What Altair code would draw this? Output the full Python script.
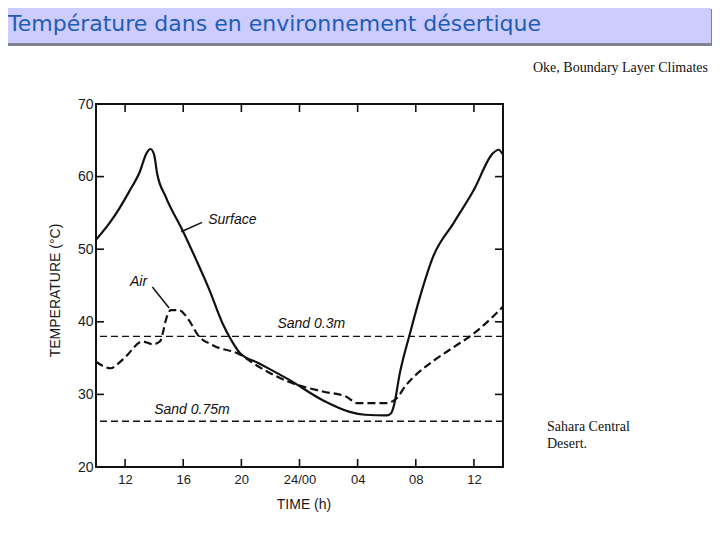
import altair as alt
import pandas as pd

# ---- data ----
surface_hours = [10, 11, 11.6, 12.3, 13.0, 13.5, 13.75, 14.0, 14.2, 14.8, 15.95, 16.9, 17.8, 18.7,
                 19.3, 19.9, 21.2, 23.3, 25.6, 27.45, 28.5, 30.0, 30.3, 30.5, 30.9, 31.6, 32.3,
                 33.2, 34.6, 36.0, 37.3, 37.7, 38.0]
surface_temps = [51.3, 53.8, 55.6, 58.0, 60.6, 63.3, 63.8, 63.0, 60.5, 57.2, 52.6, 48.5, 44.4, 39.8,
                 37.5, 35.7, 34.3, 32.0, 29.2, 27.6, 27.2, 27.1, 27.4, 28.5, 32.9, 38.4, 43.5,
                 49.0, 53.6, 58.2, 63.2, 63.7, 63.0]
air_hours = [10, 10.5, 11.0, 11.5, 12.05, 13.2, 13.9, 14.4, 14.6, 14.8, 15.15, 15.7, 16.4, 17.0,
             18.0, 19.9, 21.2, 23.3, 25.6, 27.2, 28.0, 30.0, 30.7, 31.3, 31.8, 33.2, 34.6, 36.0,
             37.3, 38.0]
air_temps = [34.5, 33.9, 33.6, 34.2, 35.2, 37.3, 36.9, 37.3, 38.5, 40.2, 41.6, 41.6, 40.2, 38.2,
             36.8, 35.5, 33.8, 31.7, 30.4, 29.7, 28.8, 28.8, 29.5, 31.2, 32.3, 34.6, 36.5, 38.4,
             40.7, 42.1]
sand_levels = [38.0, 26.3]

label_texts = ["Surface", "Air", "Sand 0.3m", "Sand 0.75m"]
label_hours = [17.72, 12.34, 22.48, 14.0]
label_temps = [53.5, 44.9, 39.1, 27.3]

leader_h1 = [17.3, 13.88]
leader_t1 = [53.7, 44.8]
leader_h2 = [15.86, 15.03]
leader_t2 = [52.4, 41.9]

x_tick_values = [12, 16, 20, 24, 28, 32, 36]
x_tick_labels = ["12", "16", "20", "24/00", "04", "08", "12"]
y_tick_values = [20, 30, 40, 50, 60, 70]

title_text = "Température dans en environnement désertique"
source_text = "Oke, Boundary Layer Climates"
place_lines = ["Sahara Central", "Desert."]

# ---- build ----
W, H = 407, 363
xs = alt.Scale(domain=[10, 38], nice=False, zero=False)
ys = alt.Scale(domain=[20, 70], nice=False, zero=False)

label_expr = "''"
for v, l in reversed(list(zip(x_tick_values, x_tick_labels))):
    label_expr = f"datum.value == {v} ? '{l}' : ({label_expr})"

x_axis = alt.Axis(values=x_tick_values, labelExpr=label_expr,
                  title="TIME  (h)", labelFontSize=13, labelPadding=6,
                  titleFontSize=14, titleFontWeight="normal",
                  titleX=W / 2 + 4, titleY=37, titleBaseline="middle", titleAlign="center")
y_axis = alt.Axis(values=y_tick_values, title="TEMPERATURE  (°C)",
                  labelFontSize=14, labelPadding=3,
                  titleFontSize=14, titleFontWeight="normal",
                  titleX=-41, titleY=186, titleAngle=270,
                  titleBaseline="middle", titleAlign="center")


def X(f):
    return alt.X(f, scale=xs, axis=x_axis)


def Y(f):
    return alt.Y(f, scale=ys, axis=y_axis)


surf_df = pd.DataFrame({"h": surface_hours, "t": surface_temps})
air_df = pd.DataFrame({"h": air_hours, "t": air_temps})
sand_df = pd.DataFrame({"t": sand_levels})
lab_df = pd.DataFrame({"h": label_hours, "t": label_temps, "txt": label_texts})
lead_df = pd.DataFrame({"h1": leader_h1, "t1": leader_t1, "h2": leader_h2, "t2": leader_t2})
xt_df = pd.DataFrame({"h": x_tick_values})
yt_df = pd.DataFrame({"t": y_tick_values})
one = pd.DataFrame({"a": [0]})

surface = alt.Chart(surf_df).mark_line(color="#111", strokeWidth=2.2, interpolate="monotone").encode(
    x=X("h:Q"), y=Y("t:Q"))

air = alt.Chart(air_df).mark_line(color="#111", strokeWidth=2.2, strokeDash=[8, 4],
                                  interpolate="monotone").encode(x=X("h:Q"), y=Y("t:Q"))

sand = alt.Chart(sand_df).mark_rule(color="#111", strokeWidth=1.3, strokeDash=[7, 4]).encode(
    y=Y("t:Q"))

labels = alt.Chart(lab_df).mark_text(font="Liberation Sans", fontStyle="italic", fontSize=14,
                                     align="left", baseline="alphabetic", color="#111").encode(
    x=X("h:Q"), y=Y("t:Q"), text="txt:N")

leaders = alt.Chart(lead_df).mark_rule(color="#111", strokeWidth=1.5).encode(
    x=X("h1:Q"), y=Y("t1:Q"), x2="h2:Q", y2="t2:Q")

tick_style = dict(color="#111", strokeWidth=1.6)
TL = 8
tb = alt.Chart(xt_df).mark_rule(**tick_style).encode(
    x=X("h:Q"), y=alt.value(H), y2=alt.value(H - TL))
tt = alt.Chart(xt_df).mark_rule(**tick_style).encode(
    x=X("h:Q"), y=alt.value(0), y2=alt.value(TL))
tl = alt.Chart(yt_df).mark_rule(**tick_style).encode(
    y=Y("t:Q"), x=alt.value(0), x2=alt.value(TL))
tr = alt.Chart(yt_df).mark_rule(**tick_style).encode(
    y=Y("t:Q"), x=alt.value(W), x2=alt.value(W - TL))

# slide decorations (pixel positions relative to the plot area)
shadow = alt.Chart(one).mark_rect(color="#80808f").encode(
    x=alt.value(-91), x2=alt.value(618), y=alt.value(-95), y2=alt.value(-58))
bar = alt.Chart(one).mark_rect(color="#ccccff").encode(
    x=alt.value(-96), x2=alt.value(615), y=alt.value(-98), y2=alt.value(-61))
title = alt.Chart(one).mark_text(text=title_text, font="DejaVu Sans", fontSize=22,
                                 color="#1f5cb8", align="left", baseline="middle").encode(
    x=alt.value(-88), y=alt.value(-80))
source = alt.Chart(one).mark_text(text=source_text, font="Liberation Serif", fontSize=14,
                                  color="#111", align="left", baseline="alphabetic").encode(
    x=alt.value(437), y=alt.value(-32))
place1 = alt.Chart(one).mark_text(text=place_lines[0], font="Liberation Serif", fontSize=14,
                                  color="#111", align="left", baseline="alphabetic").encode(
    x=alt.value(451), y=alt.value(327))
place2 = alt.Chart(one).mark_text(text=place_lines[1], font="Liberation Serif", fontSize=14,
                                  color="#111", align="left", baseline="alphabetic").encode(
    x=alt.value(451), y=alt.value(344))

chart = alt.layer(surface, air, sand, labels, leaders, tb, tt, tl, tr,
                  shadow, bar, title, source, place1, place2).properties(
    width=W, height=H,
    autosize=alt.AutoSizeParams(type="none"),
    padding={"left": 88, "top": 96, "right": 209, "bottom": 65},
    background="white",
).configure_view(stroke="#111", strokeWidth=2).configure_axis(
    domain=False, ticks=False, grid=False, labelFont="Liberation Sans", titleFont="Liberation Sans",
    labelColor="#1a1a1a", titleColor="#1a1a1a")

chart.save("out.html", embed_options={"renderer": "svg", "actions": False})
